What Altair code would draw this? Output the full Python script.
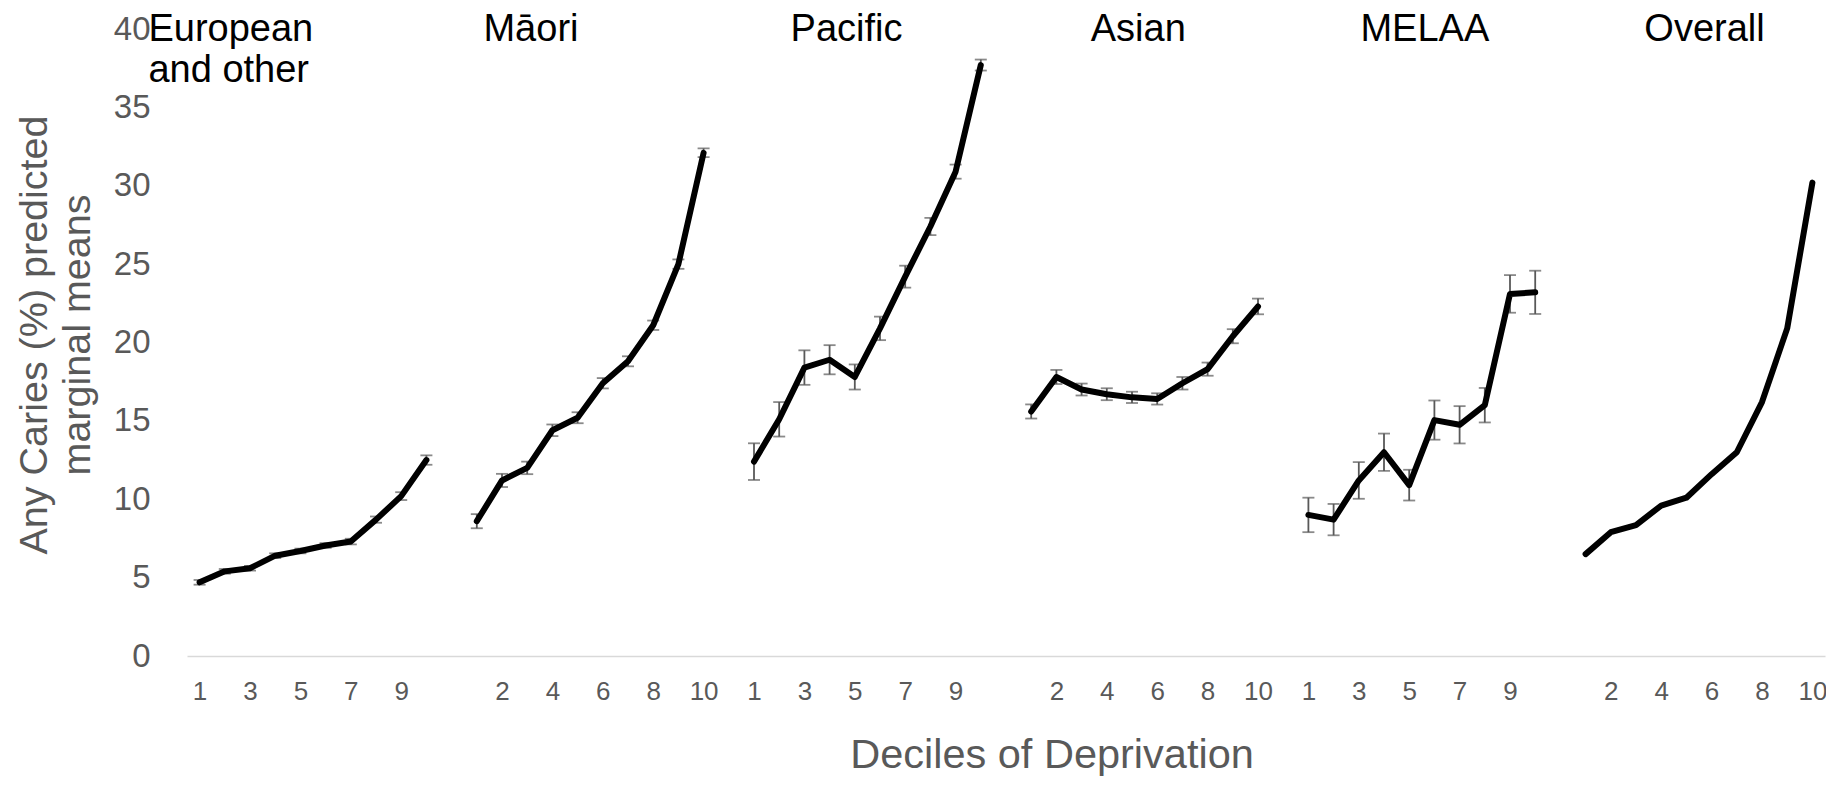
import altair as alt
import pandas as pd

# ---- data ----
groups = ["European and other", "Māori", "Pacific", "Asian", "MELAA", "Overall"]
group_titles = ["European\nand other", "Māori", "Pacific", "Asian", "MELAA", "Overall"]
# decile position (within each group) where each group title is anchored
title_decile = [-1.03, 3.15, 4.67, 5.25, 5.62, 5.72]
deciles = list(range(1, 11))

euro = [4.7, 5.4, 5.6, 6.4, 6.7, 7.05, 7.3, 8.7, 10.2, 12.5]
euro_err = [0.15, 0.15, 0.15, 0.15, 0.15, 0.15, 0.18, 0.2, 0.25, 0.3]
maori = [8.6, 11.2, 12.0, 14.4, 15.2, 17.4, 18.8, 21.1, 25.0, 32.1]
maori_err = [0.45, 0.42, 0.4, 0.37, 0.35, 0.33, 0.32, 0.3, 0.3, 0.28]
pacific = [12.4, 15.1, 18.4, 18.9, 17.8, 20.9, 24.2, 27.4, 30.9, 37.7]
pacific_err = [1.17, 1.1, 1.1, 0.93, 0.8, 0.75, 0.7, 0.55, 0.45, 0.35]
asian = [15.6, 17.8, 17.0, 16.7, 16.5, 16.4, 17.4, 18.3, 20.4, 22.3]
asian_err = [0.45, 0.45, 0.38, 0.38, 0.36, 0.36, 0.4, 0.42, 0.45, 0.5]
melaa = [9.0, 8.7, 11.2, 13.0, 10.9, 15.05, 14.75, 16.0, 23.1, 23.2]
melaa_err = [1.1, 1.0, 1.17, 1.19, 0.98, 1.25, 1.19, 1.1, 1.2, 1.38]
overall = [6.5, 7.9, 8.35, 9.6, 10.1, 11.6, 13.0, 16.2, 20.9, 30.2]
overall_err = [None] * 10

y_ticks = [0, 5, 10, 15, 20, 25, 30, 35, 40]

series = [euro, maori, pacific, asian, melaa, overall]
errors = [euro_err, maori_err, pacific_err, asian_err, melaa_err, overall_err]

SLOTS = 11  # 10 deciles + one empty category between groups

rows = []
for gi, (g, vals, errs) in enumerate(zip(groups, series, errors)):
    for d, v, e in zip(deciles, vals, errs):
        rows.append({
            "group": g,
            "decile": d,
            "idx": gi * SLOTS + d - 1,
            "value": v,
            "lo": None if e is None else v - e,
            "hi": None if e is None else v + e,
        })
df = pd.DataFrame(rows)

titles_df = pd.DataFrame({
    "group": groups,
    "title": group_titles,
    "idx": [gi * SLOTS + td - 1 for gi, td in enumerate(title_decile)],
})

GRAY = "#595959"
FONT = "Liberation Sans"

x_scale = alt.Scale(domain=[-0.5, SLOTS * len(groups) - 1.5], nice=False, zero=False)
y_scale = alt.Scale(domain=[0, 40], nice=False)

x_axis = alt.Axis(
    values=list(range(0, SLOTS * len(groups) - 1, 2)),
    labelExpr="datum.value % 11 == 10 ? '' : toString(datum.value % 11 + 1)",
    grid=False, ticks=False, tickSize=0,
    domainColor="#d9d9d9", domainWidth=1.5,
    labelFont=FONT, labelFontSize=26, labelColor=GRAY, labelPadding=22,
    labelFlush=False,
    title="Deciles of Deprivation", titleFont=FONT, titleFontSize=41.5,
    titleColor=GRAY, titleFontWeight="normal",
    titleX=864.5, titleY=111, titleAlign="center", titleBaseline="alphabetic",
)
y_axis = alt.Axis(
    values=y_ticks, grid=False, domain=False, ticks=False, tickSize=0,
    labelFont=FONT, labelFontSize=33, labelColor=GRAY, labelPadding=37,
    title=["Any Caries (%) predicted", "marginal means"], titleFont=FONT,
    titleFontSize=39.5, titleColor=GRAY, titleFontWeight="normal",
    titleAngle=270, titleX=-140.5, titleY=305.5, titleAlign="center",
    titleBaseline="alphabetic", titleLineHeight=43,
)

base = alt.Chart(df)

err_df = base.transform_filter("isValid(datum.lo)")

bars = err_df.mark_rule(color=GRAY, strokeWidth=1.8).encode(
    x=alt.X("idx:Q", scale=x_scale, axis=x_axis),
    y=alt.Y("lo:Q", scale=y_scale, axis=y_axis),
    y2="hi:Q",
)
caps_lo = err_df.mark_tick(orient="horizontal", size=12, thickness=1.8, color=GRAY).encode(
    x="idx:Q", y="lo:Q"
)
caps_hi = err_df.mark_tick(orient="horizontal", size=12, thickness=1.8, color=GRAY).encode(
    x="idx:Q", y="hi:Q"
)

lines = base.mark_line(color="black", strokeWidth=6, strokeCap="round", strokeJoin="round").encode(
    x="idx:Q",
    y="value:Q",
    detail="group:N",
    order="idx:Q",
)

tbase = alt.Chart(titles_df)
title_left = tbase.transform_filter(alt.datum.group == groups[0]).mark_text(
    align="left", baseline="alphabetic", font=FONT, fontSize=38, color="black",
    lineBreak="\n", lineHeight=41,
).encode(x="idx:Q", y=alt.value(11.5), text="title:N")
title_center = tbase.transform_filter(alt.datum.group != groups[0]).mark_text(
    align="center", baseline="alphabetic", font=FONT, fontSize=38, color="black",
).encode(x="idx:Q", y=alt.value(11.5), text="title:N")

chart = alt.layer(bars, caps_lo, caps_hi, lines, title_left, title_center).properties(
    width=1638,
    height=627,
    padding={"left": 179, "top": 21, "right": 1, "bottom": 120},
    autosize=alt.AutoSizeParams(type="none"),
).configure_view(stroke=None)

chart.save("out.html", embed_options={"renderer": "svg", "actions": False})
